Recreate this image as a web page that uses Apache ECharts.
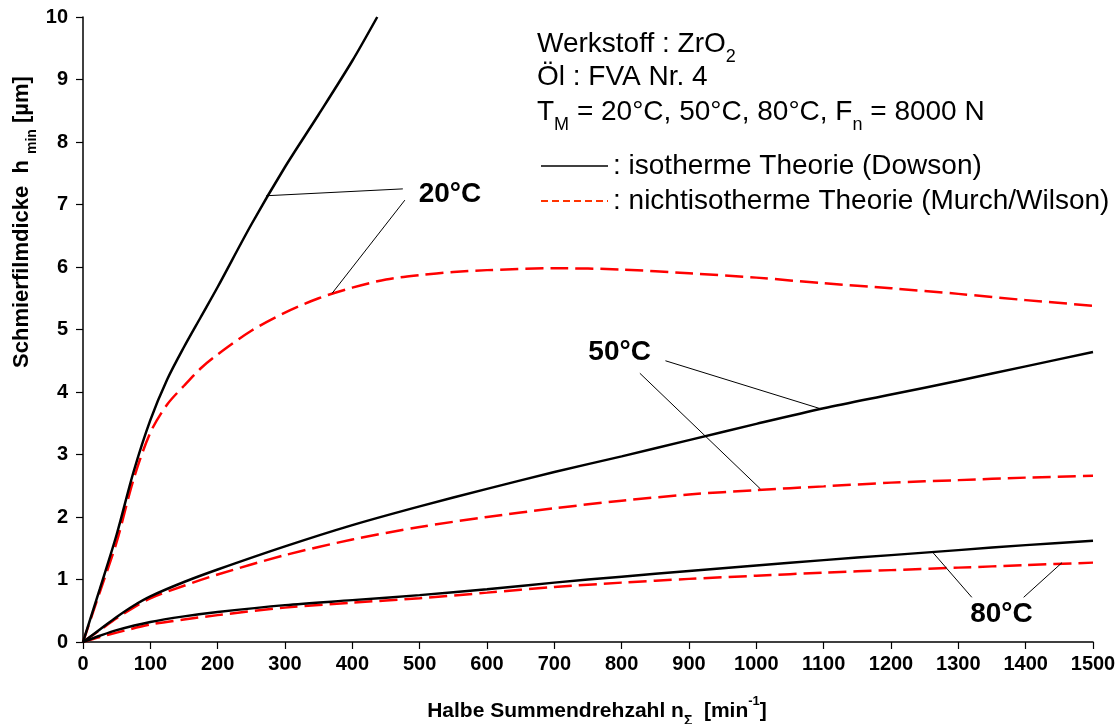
<!DOCTYPE html>
<html><head><meta charset="utf-8">
<script src="https://cdn.jsdelivr.net/npm/echarts@6/dist/echarts.min.js"></script>
<style>html,body{margin:0;padding:0;background:#fff}#c{width:1120px;height:724px}</style>
</head><body><div id="c"></div>
<script>
// ---- data ----
const xTickValues = [0,100,200,300,400,500,600,700,800,900,1000,1100,1200,1300,1400,1500];
const yTickValues = [0,1,2,3,4,5,6,7,8,9,10];

const x20Iso = [0,25,50,75,100,125,150,175,200,250,300,350,400,437];
const h20Iso = [0,0.85,1.72,2.72,3.55,4.2,4.72,5.2,5.68,6.68,7.6,8.44,9.3,10];

const x20Non = [0,25,50,75,100,125,150,175,200,250,300,350,400,450,500,550,600,700,800,900,1000,1100,1200,1300,1400,1500];
const h20Non = [0,0.8,1.6,2.6,3.35,3.8,4.1,4.38,4.6,4.98,5.27,5.5,5.67,5.8,5.87,5.92,5.95,5.98,5.96,5.9,5.83,5.74,5.66,5.57,5.47,5.38];

const x50Iso = [0,25,50,75,100,150,200,300,400,500,600,700,800,900,1000,1100,1200,1300,1400,1500];
const h50Iso = [0,0.2,0.4,0.58,0.73,0.96,1.16,1.53,1.87,2.17,2.45,2.72,2.97,3.23,3.49,3.74,3.96,4.18,4.41,4.64];

const x50Non = [0,25,50,75,100,150,200,300,400,500,600,700,800,900,1000,1100,1200,1300,1400,1500];
const h50Non = [0,0.19,0.38,0.55,0.7,0.9,1.08,1.39,1.64,1.84,2.0,2.14,2.26,2.36,2.43,2.49,2.55,2.59,2.63,2.66];

const x80Iso = [0,25,50,100,150,200,300,400,500,600,700,800,900,1000,1100,1200,1300,1400,1500];
const h80Iso = [0,0.1,0.19,0.32,0.41,0.48,0.59,0.67,0.75,0.845,0.95,1.045,1.135,1.225,1.31,1.39,1.47,1.55,1.62];

const x80Non = [0,25,50,100,150,200,300,400,500,600,700,800,900,1000,1100,1200,1300,1400,1500];
const h80Non = [0,0.08,0.15,0.28,0.36,0.43,0.55,0.63,0.70,0.79,0.88,0.95,1.01,1.06,1.11,1.15,1.19,1.23,1.27];

const tempLabels = ['20°C','50°C','80°C'];
const legendNames = ['isotherme Theorie (Dowson)','nichtisotherme Theorie (Murch/Wilson)'];
const infoLines = ['Werkstoff : ZrO{sub|2}','Öl : FVA Nr. 4','T{sub|M} = 20°C, 50°C, 80°C, F{sub|n} = 8000 N'];

// ---- build ----
const pairs = (xs, ys) => xs.map((x, i) => [x, ys[i]]);
const FONT = "'Liberation Sans', Arial, sans-serif";
const RED = '#ff0000';

function labelPoint(text, coord) {
  return {
    symbol: 'rect', symbolSize: 1, silent: true,
    itemStyle: {color: 'rgba(0,0,0,0)'},
    label: {show: true, position: 'inside', formatter: text, fontFamily: FONT, fontSize: 28, fontWeight: 'bold', color: '#000'},
    data: [{coord: coord}]
  };
}
function leaders(list) {
  return {
    symbol: ['none','none'], silent: true, animation: false,
    lineStyle: {color: '#000', width: 1, type: 'solid'},
    label: {show: false}, emphasis: {disabled: true},
    data: list.map(l => [{coord: l[0]}, {coord: l[1]}])
  };
}

function isoSeries(xs, ys, extra) {
  return Object.assign({
    type: 'line', name: legendNames[0], data: pairs(xs, ys), symbol: 'none', smooth: 0.3,
    lineStyle: {color: '#000', width: 2.5}, itemStyle: {color: '#000'}, z: 3
  }, extra || {});
}
function nonSeries(xs, ys) {
  return {
    type: 'line', name: legendNames[1], data: pairs(xs, ys), symbol: 'none', smooth: 0.3,
    lineStyle: {color: RED, width: 2.5, type: [18, 7]}, itemStyle: {color: RED}, z: 2
  };
}

const chart = echarts.init(document.getElementById('c'), null, {renderer: 'canvas'});
chart.setOption({
  animation: false,
  backgroundColor: '#fff',
  grid: {left: 83, right: 27, top: 17, bottom: 82, containLabel: false},
  xAxis: {
    type: 'value', min: 0, max: 1500, interval: 100,
    axisLine: {lineStyle: {color: '#000', width: 1.5}},
    axisTick: {show: true, length: 7, lineStyle: {color: '#000', width: 1.2}},
    axisLabel: {fontFamily: FONT, fontSize: 20, fontWeight: 'bold', color: '#000', margin: 12,
      formatter: v => xTickValues.indexOf(v) >= 0 ? String(v) : ''},
    splitLine: {show: false}
  },
  yAxis: {
    type: 'value', min: 0, max: 10, interval: 1,
    axisLine: {show: true, lineStyle: {color: '#000', width: 1.5}},
    axisTick: {show: true, length: 7, lineStyle: {color: '#000', width: 1.2}},
    axisLabel: {fontFamily: FONT, fontSize: 20, fontWeight: 'bold', color: '#000', margin: 15,
      formatter: v => yTickValues.indexOf(v) >= 0 ? String(v) : ''},
    splitLine: {show: false}
  },
  legend: {
    orient: 'vertical', left: 540, top: 152, padding: 0,
    itemWidth: 67, itemHeight: 14, itemGap: 7,
    itemStyle: {opacity: 0},
    formatter: ': {name}',
    textStyle: {fontFamily: FONT, fontSize: 28, color: '#000'},
    data: [
      {name: legendNames[0], lineStyle: {color: '#000', width: 1.5, type: 'solid'}},
      {name: legendNames[1], lineStyle: {color: '#ff3300', width: 2, type: [7, 4]}}
    ],
    selectedMode: false
  },
  series: [
    isoSeries(x20Iso, h20Iso, {
      markLine: leaders([[[475, 7.25], [272, 7.14]], [[478, 7.07], [370, 5.58]]]),
      markPoint: labelPoint(tempLabels[0], [545, 7.17])
    }),
    nonSeries(x20Non, h20Non),
    isoSeries(x50Iso, h50Iso, {
      markLine: leaders([[[865, 4.50], [1096, 3.73]], [[827, 4.30], [1006, 2.45]]]),
      markPoint: labelPoint(tempLabels[1], [797, 4.64])
    }),
    nonSeries(x50Non, h50Non),
    isoSeries(x80Iso, h80Iso, {
      markLine: leaders([[[1320, 0.715], [1262, 1.435]], [[1397, 0.715], [1454, 1.27]]]),
      markPoint: labelPoint(tempLabels[2], [1364, 0.44])
    }),
    nonSeries(x80Non, h80Non)
  ],
  graphic: [
    {type: 'text', left: 537, top: 30, z: 10, style: {text: infoLines[0], fontFamily: FONT, fontSize: 28, fill: '#000',
      rich: {sub: {fontSize: 18, fontFamily: FONT, verticalAlign: 'bottom', lineHeight: 18, padding: [0,0,-8,0]}}}},
    {type: 'text', left: 537, top: 63, z: 10, style: {text: infoLines[1], fontFamily: FONT, fontSize: 28, fill: '#000'}},
    {type: 'text', left: 537, top: 98, z: 10, style: {text: infoLines[2], fontFamily: FONT, fontSize: 28, fill: '#000',
      rich: {sub: {fontSize: 18, fontFamily: FONT, verticalAlign: 'bottom', lineHeight: 18, padding: [0,0,-8,0]}}}},
    {type: 'text', x: 597, y: 711, z: 10, style: {
      text: 'Halbe Summendrehzahl n{sub|Σ}  [min{sup|-1}]', align: 'center', verticalAlign: 'middle',
      fontFamily: FONT, fontSize: 21, fontWeight: 'bold', fill: '#000',
      rich: {sub: {fontSize: 14, fontWeight: 'bold', fontFamily: FONT, verticalAlign: 'bottom', padding: [0,0,-7,0]},
             sup: {fontSize: 13, fontWeight: 'bold', fontFamily: FONT, verticalAlign: 'top', padding: [-6,0,0,0]}}}},
    {type: 'text', x: 22, y: 222, rotation: Math.PI / 2, z: 10, style: {
      text: 'Schmierfilmdicke  h {sub|min} [µm]', align: 'center', verticalAlign: 'middle',
      fontFamily: FONT, fontSize: 22, fontWeight: 'bold', fill: '#000',
      rich: {sub: {fontSize: 14, fontWeight: 'bold', fontFamily: FONT, verticalAlign: 'bottom', padding: [0,0,-6,0]}}}}
  ]
});
</script></body></html>
